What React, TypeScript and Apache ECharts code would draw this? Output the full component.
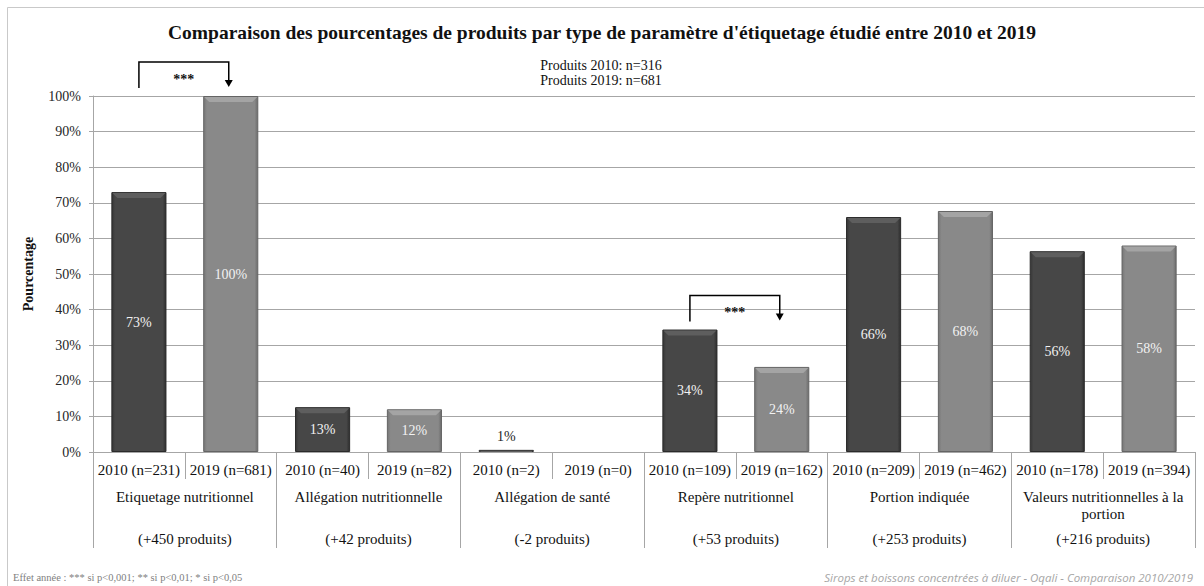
import React, { useEffect, useRef } from "react";
import * as echarts from "echarts";

const yearLabels = [
  "2010 (n=231)", "2019 (n=681)",
  "2010 (n=40)", "2019 (n=82)",
  "2010 (n=2)", "2019 (n=0)",
  "2010 (n=109)", "2019 (n=162)",
  "2010 (n=209)", "2019 (n=462)",
  "2010 (n=178)", "2019 (n=394)",
];
const groups = [
  "Etiquetage nutritionnel",
  "Allégation nutritionnelle",
  "Allégation de santé",
  "Repère nutritionnel",
  "Portion indiquée",
  "Valeurs nutritionnelles à la\nportion",
];
const deltas = [
  "(+450 produits)", "(+42 produits)", "(-2 produits)",
  "(+53 produits)", "(+253 produits)", "(+216 produits)",
];
const pct2010 = [73, 12.6, 0.6, 34.4, 66, 56.4];
const pct2019 = [100, 12, 0, 23.9, 67.7, 58];
const yTicks = [0, 10, 20, 30, 40, 50, 60, 70, 80, 90, 100];
const significance = [
  { group: 0, label: "***" },
  { group: 3, label: "***" },
];
const titleText =
  "Comparaison des pourcentages de produits par type de paramètre d'étiquetage étudié entre 2010 et 2019";
const sampleLines = ["Produits 2010: n=316", "Produits 2019: n=681"];
const footLeft = "Effet année : *** si p<0,001; ** si p<0,01; * si p<0,05";
const footRight = "Sirops et boissons concentrées à diluer - Oqali - Comparaison 2010/2019";

const SERIF = "'Liberation Serif', 'DejaVu Serif', serif";

export default function App() {
  const ref = useRef<HTMLDivElement>(null);
  useEffect(() => {
    document.body.style.margin = "0";
    const chart = echarts.init(ref.current!, null, { renderer: "svg" });
    const data2010 = yearLabels.map((_, i) => (i % 2 === 0 ? pct2010[i / 2] : "-"));
    const data2019 = yearLabels.map((_, i) => (i % 2 === 1 ? pct2019[(i - 1) / 2] : "-"));
    const grad = (edge: string, mid: string, edge2: string) =>
      new echarts.graphic.LinearGradient(0, 0, 1, 0, [
        { offset: 0, color: edge },
        { offset: 0.06, color: mid },
        { offset: 0.94, color: mid },
        { offset: 1, color: edge2 },
      ]);
    const lbl = () => ({
      show: true,
      position: "inside",
      color: "#f2f2f2",
      fontFamily: SERIF,
      fontSize: 14,
      formatter: (p: any) => (p.value === 0 ? "" : Math.round(p.value) + "%"),
    });
    const mkData = (arr: any[]) =>
      arr.map((v) => {
        if (v === "-") return v;
        if (v === 0) return { value: 0, itemStyle: { opacity: 0, borderWidth: 0 } };
        if (v < 5) return { value: v, label: { position: "top", color: "#262626", distance: 6 } };
        return v;
      });
    const bevelData: any[] = [];
    yearLabels.forEach((_, i) => {
      const v = i % 2 === 0 ? pct2010[i / 2] : pct2019[(i - 1) / 2];
      if (v > 0) bevelData.push([i, v, i % 2]);
    });
    chart.setOption({
      animation: false,
      backgroundColor: "#ffffff",
      title: {
        text: titleText,
        left: "center",
        top: 17,
        textStyle: { fontFamily: SERIF, fontWeight: "bold", fontSize: 19.5, color: "#111" },
      },
      grid: { left: 93, right: 9, top: 96, bottom: 134, containLabel: false },
      xAxis: [
        {
          type: "category",
          data: yearLabels,
          position: "bottom",
          axisLine: { show: true, lineStyle: { color: "#a6a6a6", width: 1 } },
          axisTick: { show: true, length: 27, lineStyle: { color: "#a6a6a6" } },
          axisLabel: {
            interval: 0,
            margin: 10,
            fontFamily: SERIF,
            fontSize: 15,
            color: "#111",
            verticalAlign: "top",
          },
        },
        {
          type: "category",
          data: groups,
          position: "bottom",
          axisLine: { show: false },
          axisTick: { show: true, length: 96, lineStyle: { color: "#a6a6a6" } },
          axisLabel: {
            interval: 0,
            margin: 36,
            fontFamily: SERIF,
            fontSize: 15,
            lineHeight: 17,
            color: "#111",
            verticalAlign: "top",
          },
        },
        {
          type: "category",
          data: deltas,
          position: "bottom",
          axisLine: { show: false },
          axisTick: { show: false },
          axisLabel: {
            interval: 0,
            margin: 79,
            fontFamily: SERIF,
            fontSize: 15,
            color: "#111",
            verticalAlign: "top",
          },
        },
      ],
      yAxis: {
        type: "value",
        min: yTicks[0],
        max: yTicks[yTicks.length - 1],
        interval: yTicks[1] - yTicks[0],
        name: "Pourcentage",
        nameLocation: "middle",
        nameRotate: 90,
        nameGap: 58,
        nameTextStyle: { fontFamily: SERIF, fontWeight: "bold", fontSize: 14, color: "#111" },
        axisLine: { show: true, lineStyle: { color: "#a6a6a6" } },
        axisTick: { show: true, length: 4, lineStyle: { color: "#a6a6a6" } },
        axisLabel: {
          formatter: "{value}%",
          margin: 12,
          fontFamily: SERIF,
          fontSize: 14,
          color: "#262626",
        },
        splitLine: { show: true, lineStyle: { color: "#a6a6a6", width: 1 } },
      },
      series: [
        {
          name: "2010",
          type: "bar",
          xAxisIndex: 0,
          barWidth: "60%",
          barGap: "-100%",
          data: mkData(data2010),
          itemStyle: {
            color: grad("#363636", "#474747", "#2e2e2e"),
            borderColor: "#2a2a2a",
            borderWidth: 1,
          },
          label: lbl(),
          z: 2,
        },
        {
          name: "2019",
          type: "bar",
          xAxisIndex: 0,
          barWidth: "60%",
          barGap: "-100%",
          data: mkData(data2019),
          itemStyle: {
            color: grad("#767676", "#898989", "#6c6c6c"),
            borderColor: "#646464",
            borderWidth: 1,
          },
          label: lbl(),
          z: 2,
        },
        {
          name: "bevel",
          type: "custom",
          xAxisIndex: 0,
          data: bevelData,
          z: 3,
          silent: true,
          renderItem: (params: any, api: any) => {
            const idx = api.value(0);
            const val = api.value(1);
            const yr = api.value(2);
            const top = api.coord([idx, val]);
            const base = api.coord([idx, 0]);
            const w = api.size([1, 0])[0] * 0.6;
            const x0 = top[0] - w / 2 + 1;
            const x1 = top[0] + w / 2 - 1;
            const h = Math.min(5, Math.max(0, base[1] - top[1] - 1));
            const y = top[1] + 1;
            return {
              type: "polygon",
              shape: {
                points: [
                  [x0, y],
                  [x1, y],
                  [x1 - h, y + h],
                  [x0 + h, y + h],
                ],
              },
              style: { fill: yr === 0 ? "#5e5e5e" : "#a4a4a4" },
            };
          },
        },
      ],
    });

    const g: any[] = [];
    g.push({
      type: "rect",
      shape: { x: 7.5, y: 7.5, width: 1230, height: 620 },
      style: { fill: "none", stroke: "#c9c9c9", lineWidth: 1 },
      silent: true,
    });
    sampleLines.forEach((t, i) =>
      g.push({
        type: "text",
        x: 601,
        y: 65 + i * 15,
        style: {
          text: t,
          fontFamily: SERIF,
          fontSize: 14,
          fill: "#111",
          textAlign: "center",
          textVerticalAlign: "middle",
        },
      })
    );
    significance.forEach((s) => {
      const c0 = 2 * s.group;
      const c1 = 2 * s.group + 1;
      const top = Math.max(pct2010[s.group], pct2019[s.group]);
      const p0 = chart.convertToPixel({ gridIndex: 0 }, [c0, top]) as number[];
      const p1 = chart.convertToPixel({ gridIndex: 0 }, [c1, top]) as number[];
      const hy = p0[1] - 34;
      const x0 = p0[0];
      const x1 = p1[0] - 2;
      g.push({
        type: "polyline",
        shape: { points: [[x0, hy + 26], [x0, hy], [x1, hy], [x1, hy + 19]] },
        style: { stroke: "#000", lineWidth: 1.5, fill: "none" },
      });
      g.push({
        type: "polygon",
        shape: { points: [[x1 - 4, hy + 18], [x1 + 4, hy + 18], [x1, hy + 25]] },
        style: { fill: "#000" },
      });
      g.push({
        type: "text",
        x: (x0 + x1) / 2,
        y: hy + 17,
        style: {
          text: s.label,
          fontFamily: SERIF,
          fontSize: 14,
          fontWeight: "bold",
          fill: "#111",
          textAlign: "center",
          textVerticalAlign: "middle",
        },
      });
    });
    g.push({
      type: "text",
      x: 13,
      y: 577,
      style: {
        text: footLeft,
        fontFamily: SERIF,
        fontSize: 10.5,
        fill: "#808080",
        textAlign: "left",
        textVerticalAlign: "middle",
      },
    });
    g.push({
      type: "text",
      x: 1193,
      y: 577,
      style: {
        text: footRight,
        fontFamily: "'Liberation Sans Narrow', 'Open Sans', sans-serif",
        fontStyle: "italic",
        fontSize: 11.5,
        fill: "#a6a6a6",
        textAlign: "right",
        textVerticalAlign: "middle",
      },
    });
    chart.setOption({ graphic: g });
    return () => chart.dispose();
  }, []);
  return <div ref={ref} style={{ width: 1204, height: 586 }} />;
}
